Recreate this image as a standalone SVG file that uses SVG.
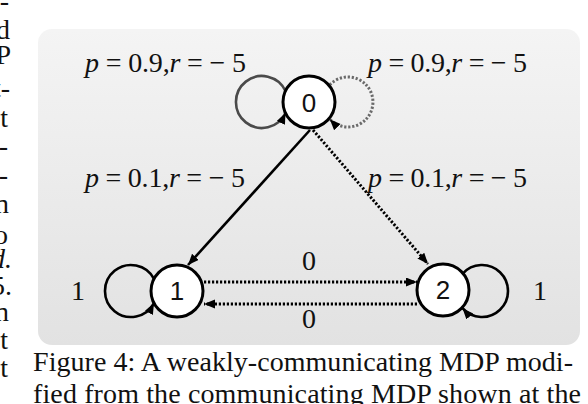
<svg xmlns="http://www.w3.org/2000/svg" width="588" height="404" viewBox="0 0 588 404">
<style>
.serif{font-family:"Liberation Serif","Times New Roman",serif;font-size:28px;fill:#111}
.lbl{font-family:"Liberation Serif","Times New Roman",serif;font-size:28px;fill:#111}
.it{font-style:italic}
.nlab{font-family:"Liberation Sans",Arial,sans-serif;font-size:26px;fill:#111;text-anchor:middle}
.node{fill:#fff;stroke:#000;stroke-width:3}
.solid{fill:none;stroke:#000;stroke-width:2.6}
.dot{fill:none;stroke:#000;stroke-width:3;stroke-dasharray:2.2 1.8}
</style>
<defs>
<linearGradient id="bg" x1="0" y1="0" x2="0" y2="1">
<stop offset="0" stop-color="#f4f4f4"/>
<stop offset="1" stop-color="#e2e2e2"/>
</linearGradient>
<marker id="ah" markerUnits="userSpaceOnUse" markerWidth="12" markerHeight="10" refX="11" refY="4.5" orient="auto">
<path d="M0,0 L11,4.5 L0,9 z" fill="#000"/>
</marker>
</defs>
<g id="page-text" class="serif" text-anchor="end">
<text x="9" y="10">-</text>
<text x="10" y="39">d</text>
<text x="11" y="64">P</text>
<text x="10" y="97">t-</text>
<text x="8" y="127">t</text>
<text x="8" y="155">-</text>
<text x="8" y="184">-</text>
<text x="9" y="213">n</text>
<text x="8" y="244">o</text>
<text x="12" y="268" font-style="italic">d.</text>
<text x="12" y="295">5.</text>
<text x="9" y="321">n</text>
<text x="8" y="349">t</text>
<text x="8" y="377">t</text>
</g>
<rect id="panel" x="38" y="29" width="542" height="316" rx="14" fill="url(#bg)"/>
<g id="connectors">
<path d="M285.5,91 A26,26 0 1 0 285.5,113" fill="none" stroke="#4a4a4a" stroke-width="2.6" marker-end="url(#ah)"/>
<path d="M329.8,84.8 A25,25 0 1 1 329.8,119.2" fill="none" stroke="#6a6a6a" stroke-width="3" stroke-dasharray="2.2 1.8" marker-end="url(#ah)"/>
<path d="M154,278.9 A26,26 0 1 0 154,303.1" class="solid" marker-end="url(#ah)"/>
<path d="M462.5,273.8 A26,26 0 1 1 462.5,308.2" class="solid" marker-end="url(#ah)"/>
<line x1="310" y1="130" x2="188" y2="265" class="solid" marker-end="url(#ah)"/>
<line x1="313" y1="130" x2="428" y2="264" class="dot" marker-end="url(#ah)"/>
<line x1="204" y1="282" x2="417" y2="282" class="dot" marker-end="url(#ah)"/>
<line x1="417" y1="304" x2="204" y2="304" class="dot" marker-end="url(#ah)"/>
</g>
<g id="node0"><circle cx="309" cy="102" r="26" class="node"/><text x="309" y="112" class="nlab">0</text></g>
<g id="node1"><circle cx="177" cy="291" r="26" class="node"/><text x="177" y="300" class="nlab">1</text></g>
<g id="node2"><circle cx="443" cy="290" r="26" class="node"/><text x="443" y="299" class="nlab">2</text></g>
<g id="edge-labels" class="lbl">
<text x="85" y="72" textLength="161" lengthAdjust="spacing"><tspan class="it">p</tspan> = 0.9,<tspan class="it">r</tspan> = − 5</text>
<text x="368" y="72" textLength="159" lengthAdjust="spacing"><tspan class="it">p</tspan> = 0.9,<tspan class="it">r</tspan> = − 5</text>
<text x="85" y="187" textLength="160" lengthAdjust="spacing"><tspan class="it">p</tspan> = 0.1,<tspan class="it">r</tspan> = − 5</text>
<text x="368" y="187" textLength="159" lengthAdjust="spacing"><tspan class="it">p</tspan> = 0.1,<tspan class="it">r</tspan> = − 5</text>
<text x="309" y="270" text-anchor="middle">0</text>
<text x="309" y="328" text-anchor="middle">0</text>
<text x="78" y="300" text-anchor="middle">1</text>
<text x="540" y="300" text-anchor="middle">1</text>
</g>
<g id="caption" class="serif">
<text x="33" y="371" textLength="540" lengthAdjust="spacing">Figure 4: A weakly-communicating MDP modi-</text>
<text x="33" y="403" textLength="548" lengthAdjust="spacing">fied from the communicating MDP shown at the</text>
</g>
</svg>
